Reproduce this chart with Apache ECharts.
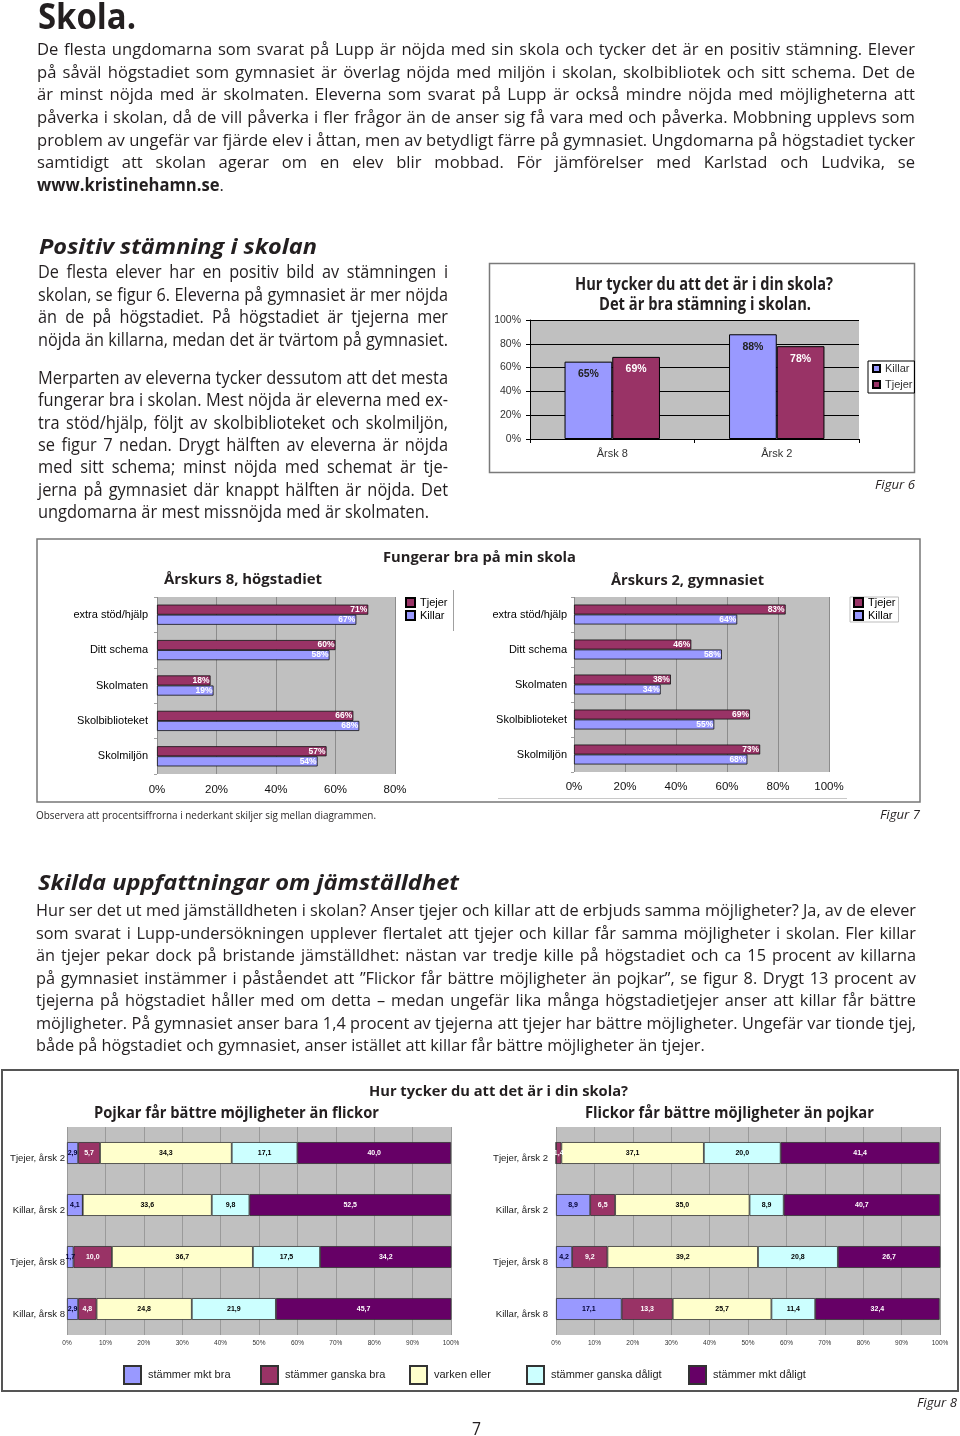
<!DOCTYPE html>
<html lang="sv">
<head>
<meta charset="utf-8">
<title>Skola</title>
<script src="https://cdn.jsdelivr.net/npm/echarts@6/dist/echarts.min.js"></script>
<style>
html,body{margin:0;padding:0;background:#fff;}
#page{position:relative;width:960px;height:1436px;overflow:hidden;background:#fff;}
#chart{position:absolute;left:0;top:0;width:960px;height:1436px;}
.t{position:absolute;white-space:nowrap;transform-origin:0 0;color:#231f20;font-family:'Open Sans','Noto Sans',sans-serif;}
</style>
</head>
<body>
<div id="page"><div id="chart"></div></div>
<script>
// ---------------- DATA ----------------
// Figur 6: Det är bra stämning i skolan (%)
const fig6Categories = ['Årsk 8', 'Årsk 2'];
const fig6Killar = [65, 88];
const fig6Tjejer = [69, 78];
const fig6AxisMax = 100, fig6AxisStep = 20;

// Figur 7: Fungerar bra på min skola (%)
const fig7Categories = ['extra stöd/hjälp', 'Ditt schema', 'Skolmaten', 'Skolbiblioteket', 'Skolmiljön'];
const fig7Ak8Tjejer = [71, 60, 18, 66, 57];
const fig7Ak8Killar = [67, 58, 19, 68, 54];
const fig7Ak2Tjejer = [83, 46, 38, 69, 73];
const fig7Ak2Killar = [64, 58, 34, 55, 68];
const fig7Ak8AxisMax = 80, fig7Ak2AxisMax = 100, fig7AxisStep = 20;

// Figur 8: Hur tycker du att det är i din skola? (%)
const fig8Categories = ['Tjejer, årsk 2', 'Killar, årsk 2', 'Tjejer, årsk 8', 'Killar, årsk 8'];
const fig8Answers = ['stämmer mkt bra', 'stämmer ganska bra', 'varken eller', 'stämmer ganska dåligt', 'stämmer mkt dåligt'];
// "Pojkar får bättre möjligheter än flickor"
const fig8PojkarMktBra       = [2.9, 4.1, 1.7, 2.9];
const fig8PojkarGanskaBra    = [5.7, 0.0, 10.0, 4.8];
const fig8PojkarVarkenEller  = [34.3, 33.6, 36.7, 24.8];
const fig8PojkarGanskaDaligt = [17.1, 9.8, 17.5, 21.9];
const fig8PojkarMktDaligt    = [40.0, 52.5, 34.2, 45.7];
// "Flickor får bättre möjligheter än pojkar"
const fig8FlickorMktBra       = [0.0, 8.9, 4.2, 17.1];
const fig8FlickorGanskaBra    = [1.4, 6.5, 9.2, 13.3];
const fig8FlickorVarkenEller  = [37.1, 35.0, 39.2, 25.7];
const fig8FlickorGanskaDaligt = [20.0, 8.9, 20.8, 11.4];
const fig8FlickorMktDaligt    = [41.4, 40.7, 26.7, 32.4];
const fig8AxisMax = 100, fig8AxisStep = 10;

// ---------------- TEXT ----------------
const p1Lines = [
  ['De flesta ungdomarna som svarat på Lupp är nöjda med sin skola och tycker det är en positiv stämning. Elever', 1],
  ['på såväl högstadiet som gymnasiet är överlag nöjda med miljön i skolan, skolbibliotek och sitt schema. Det de', 1],
  ['är minst nöjda med är skolmaten. Eleverna som svarat på Lupp är också mindre nöjda med möjligheterna att', 1],
  ['påverka i skolan, då de vill påverka i fler frågor än de anser sig få vara med och påverka. Mobbning upplevs som', 1],
  ['problem av ungefär var fjärde elev i åttan, men av betydligt färre på gymnasiet. Ungdomarna på högstadiet tycker', 1],
  ['samtidigt att skolan agerar om en elev blir mobbad. För jämförelser med Karlstad och Ludvika, se', 1],
  ['<b>www.kristinehamn.se</b>.', 0]
];
const p2aLines = [
  ['De flesta elever har en positiv bild av stämningen i', 1],
  ['skolan, se figur 6. Eleverna på gymnasiet är mer nöjda', 1],
  ['än de på högstadiet. På högstadiet är tjejerna mer', 1],
  ['nöjda än killarna, medan det är tvärtom på gymnasiet.', 1]
];
const p2bLines = [
  ['Merparten av eleverna tycker dessutom att det mesta', 1],
  ['fungerar bra i skolan. Mest nöjda är eleverna med ex-', 1],
  ['tra stöd/hjälp, följt av skolbiblioteket och skolmiljön,', 1],
  ['se figur 7 nedan. Drygt hälften av eleverna är nöjda', 1],
  ['med sitt schema; minst nöjda med schemat är tje-', 1],
  ['jerna på gymnasiet där knappt hälften är nöjda. Det', 1],
  ['ungdomarna är mest missnöjda med är skolmaten.', 0]
];
const p3Lines = [
  ['Hur ser det ut med jämställdheten i skolan? Anser tjejer och killar att de erbjuds samma möjligheter? Ja, av de elever', 1],
  ['som svarat i Lupp-undersökningen upplever flertalet att tjejer och killar får samma möjligheter i skolan. Fler killar', 1],
  ['än tjejer pekar dock på bristande jämställdhet: nästan var tredje kille på högstadiet och ca 15 procent av killarna', 1],
  ['på gymnasiet instämmer i påståendet att ”Flickor får bättre möjligheter än pojkar”, se figur 8. Drygt 13 procent av', 1],
  ['tjejerna på högstadiet håller med om detta – medan ungefär lika många högstadietjejer anser att killar får bättre', 1],
  ['möjligheter. På gymnasiet anser bara 1,4 procent av tjejerna att tjejer har bättre möjligheter. Ungefär var tionde tjej,', 1],
  ['både på högstadiet och gymnasiet, anser istället att killar får bättre möjligheter än tjejer.', 0]
];

// ---------------- HELPERS ----------------
const page = document.getElementById('page');
const mctx = document.createElement('canvas').getContext('2d');
function textW(text, font) { mctx.font = font; return mctx.measureText(text).width; }
const AR = "'Liberation Sans', Arial, Helvetica, sans-serif";
const OS = "'Open Sans', 'Noto Sans', sans-serif";
// genuine narrow font only if it really is narrower than Liberation Sans
const sample = 'Tjejer, årsk 2';
const narrowW = textW(sample, '40px "Liberation Sans Narrow", "Liberation Sans"');
const regW = textW(sample, '40px "Liberation Sans"');
const CAT_FONT = (narrowW < 0.9 * regW) ? "'Liberation Sans Narrow', " + AR : AR;
const CAT_SIZE = Math.min(12, 40 * 55 / textW(sample, '40px ' + CAT_FONT));

function mk(html, x, baseline, size, extra) {
  const d = document.createElement('div');
  d.className = 't';
  d.style.left = x + 'px';
  d.style.top = (baseline - 0.888 * size) + 'px';
  d.style.fontSize = size + 'px';
  d.style.lineHeight = size + 'px';
  if (extra) Object.assign(d.style, extra);
  d.innerHTML = html;
  page.appendChild(d);
  return d;
}
function fitLine(html, x, baseline, size, targetW, extra) {
  const d = mk(html, x, baseline, size, extra);
  const w = d.getBoundingClientRect().width;
  d.style.transform = 'scaleX(' + (targetW / w) + ')';
  return d;
}
function para(lines, o) {
  const els = lines.map((l, i) => mk(l[0], o.x, o.y + i * o.lh, o.size));
  const ws = els.map(e => e.getBoundingClientRect().width);
  let s = Infinity;
  lines.forEach((l, i) => { if (l[1]) s = Math.min(s, o.w / ws[i]); });
  if (!isFinite(s)) s = 1;
  s = Math.max(0.7, Math.min(1.2, s));
  els.forEach((e, i) => {
    e.style.transform = 'scaleX(' + s + ')';
    if (lines[i][1]) {
      const n = (e.textContent.match(/ /g) || []).length;
      if (n) e.style.wordSpacing = ((o.w / s - ws[i]) / n) + 'px';
    }
  });
}
function gText(text, left, baseline, targetW, size, weight, italic) {
  const fs = italic ? 'italic' : 'normal';
  const w = textW(text, fs + ' ' + weight + ' ' + size + 'px "Open Sans"');
  return {
    type: 'text', x: left, y: baseline - 0.29 * size, scaleX: targetW / w, silent: true,
    style: { text: text, fill: '#231f20', fontFamily: OS, fontSize: size, fontWeight: weight,
             fontStyle: fs, align: 'left', verticalAlign: 'middle' }
  };
}

// ---------------- PAGE TEXT ----------------
fitLine('Skola.', 38, 29, 35, 98, { fontWeight: '700' });
para(p1Lines, { x: 37, y: 55.5, lh: 22.6, w: 878, size: 17.2 });
fitLine('Positiv stämning i skolan', 39, 254, 21.5, 278, { fontWeight: '700', fontStyle: 'italic' });
para(p2aLines, { x: 37.5, y: 278, lh: 22.5, w: 410, size: 18 });
para(p2bLines, { x: 37.5, y: 384, lh: 22.3, w: 410, size: 18 });
fitLine('Figur 6', 875, 490, 13, 40, { fontStyle: 'italic' });
fitLine('Observera att procentsiffrorna i nederkant skiljer sig mellan diagrammen.', 36, 819, 10, 340);
fitLine('Figur 7', 880, 820, 13, 40, { fontStyle: 'italic' });
fitLine('Skilda uppfattningar om jämställdhet', 38, 890, 21.5, 421, { fontWeight: '700', fontStyle: 'italic' });
para(p3Lines, { x: 36, y: 916.5, lh: 22.5, w: 880, size: 17.2 });
fitLine('Figur 8', 917, 1408, 13, 40, { fontStyle: 'italic' });
fitLine('7', 472, 1435, 18, 9);

// ---------------- CHART ----------------
const COL = { killar: '#9999ff', tjejer: '#993366' };
const fig8Colors = ['#9999ff', '#993366', '#ffffcc', '#ccffff', '#660066'];
const fig8LabelColors = ['#000033', '#ffffff', '#000000', '#000000', '#ffffff'];
const fig8Pojkar = [fig8PojkarMktBra, fig8PojkarGanskaBra, fig8PojkarVarkenEller, fig8PojkarGanskaDaligt, fig8PojkarMktDaligt];
const fig8Flickor = [fig8FlickorMktBra, fig8FlickorGanskaBra, fig8FlickorVarkenEller, fig8FlickorGanskaDaligt, fig8FlickorMktDaligt];

const plotBg = { show: true, backgroundColor: '#c0c0c0', borderWidth: 0, containLabel: false, outerBoundsMode: 'none' };
const grids = [
  Object.assign({ left: 530, top: 320, width: 329, height: 119 }, plotBg),
  Object.assign({ left: 157, top: 597, width: 238, height: 177 }, plotBg),
  Object.assign({ left: 574, top: 597, width: 255, height: 175 }, plotBg),
  Object.assign({ left: 67, top: 1127, width: 384, height: 208 }, plotBg),
  Object.assign({ left: 556, top: 1127, width: 384, height: 208 }, plotBg)
];

function fig7X(gi, max) {
  return { type: 'value', gridIndex: gi, min: 0, max: max, interval: fig7AxisStep,
    axisLine: { show: false }, axisTick: { show: false },
    axisLabel: { formatter: '{value}%', color: '#111', fontFamily: AR, fontSize: 11.5, margin: gi === 1 ? 10 : 8.5 },
    splitLine: { show: true, lineStyle: { color: '#8c8c8c', width: 1 } } };
}
function fig7Y(gi, margin) {
  return { type: 'category', gridIndex: gi, inverse: true, data: fig7Categories,
    axisLine: { show: false }, axisTick: { show: true, length: 3, lineStyle: { color: '#a0a0a0' } },
    axisLabel: { color: '#000', fontFamily: AR, fontSize: 11, margin: margin, interval: 0 },
    splitLine: { show: false } };
}
function fig8X(gi) {
  return { type: 'value', gridIndex: gi, min: 0, max: fig8AxisMax, interval: fig8AxisStep,
    axisLine: { show: false }, axisTick: { show: false },
    axisLabel: { formatter: '{value}%', color: '#333', fontFamily: AR, fontSize: 6.5, margin: 5 },
    splitLine: { show: true, lineStyle: { color: '#9a9a9a', width: 1 } } };
}
function fig8Y(gi, margin) {
  return { type: 'category', gridIndex: gi, inverse: true, data: fig8Categories,
    axisLine: { show: false }, axisTick: { show: false },
    axisLabel: { color: '#222', fontFamily: CAT_FONT, fontSize: CAT_SIZE, margin: margin,
                 interval: 0, verticalAlign: 'top' },
    splitLine: { show: false } };
}
function fig7Series(name, data, gi, color) {
  return { type: 'bar', name: name, xAxisIndex: gi, yAxisIndex: gi, data: data,
    barGap: '0%', barCategoryGap: '43%',
    itemStyle: { color: color, borderColor: '#111', borderWidth: 0.8 },
    label: { show: true, position: 'insideRight', distance: 1, formatter: '{c}%', color: '#fff',
             fontFamily: AR, fontWeight: 'bold', fontSize: 8.5 } };
}
function fig8Series(gi, stack, values) {
  return fig8Answers.map((name, k) => ({
    type: 'bar', name: name, stack: stack, xAxisIndex: gi, yAxisIndex: gi, data: values[k],
    barCategoryGap: '58%',
    itemStyle: { color: fig8Colors[k], borderColor: '#333', borderWidth: 0.8 },
    label: { show: true, position: 'inside', color: fig8LabelColors[k], fontFamily: AR,
             fontWeight: 'bold', fontSize: 7,
             formatter: p => (p.value > 0 ? p.value.toFixed(1).replace('.', ',') : '') }
  }));
}

const legendText = (size, color) => ({ fontFamily: AR, fontSize: size, color: color });
const fig8LegendLeft = [123, 260, 409, 526, 688];

const option = {
  animation: false,
  backgroundColor: 'transparent',
  grid: grids,
  xAxis: [
    { type: 'category', gridIndex: 0, data: fig6Categories,
      axisLine: { show: true, lineStyle: { color: '#000', width: 1 } },
      axisTick: { show: true, length: 4, lineStyle: { color: '#000' } },
      axisLabel: { color: '#333', fontFamily: AR, fontSize: 11, margin: 9 } },
    fig7X(1, fig7Ak8AxisMax),
    fig7X(2, fig7Ak2AxisMax),
    fig8X(3),
    fig8X(4)
  ],
  yAxis: [
    { type: 'value', gridIndex: 0, min: 0, max: fig6AxisMax, interval: fig6AxisStep,
      axisLine: { show: true, lineStyle: { color: '#000', width: 1 } },
      axisTick: { show: true, length: 4, lineStyle: { color: '#000' } },
      axisLabel: { formatter: '{value}%', color: '#333', fontFamily: AR, fontSize: 10.5, margin: 9 },
      splitLine: { show: true, lineStyle: { color: '#000', width: 1 } } },
    fig7Y(1, 9),
    fig7Y(2, 7),
    fig8Y(3, 2),
    fig8Y(4, 8)
  ],
  legend: [
    { data: ['Killar', 'Tjejer'], orient: 'vertical', left: 868, top: 361, padding: [2, 2, 3, 4],
      itemGap: 5, itemWidth: 7, itemHeight: 7, icon: 'rect', selectedMode: false,
      borderColor: '#000', borderWidth: 1, textStyle: legendText(11, '#333') },
    { data: ['Tjejer', 'Killar'], orient: 'vertical', left: 401, top: 594, padding: [3, 4, 3, 4],
      itemGap: 2, itemWidth: 9, itemHeight: 9, icon: 'rect', selectedMode: false,
      textStyle: legendText(11, '#000') },
    { data: ['Tjejer', 'Killar'], orient: 'vertical', left: 850, top: 597, padding: [0, 3, 1, 3],
      itemGap: 2, itemWidth: 9, itemHeight: 9, icon: 'rect', selectedMode: false,
      borderColor: '#bdbdbd', borderWidth: 1, textStyle: legendText(11, '#000') }
  ].concat(fig8Answers.map((n, k) => ({
      data: [n], left: fig8LegendLeft[k], top: 1365, padding: 0, itemWidth: 17, itemHeight: 18,
      icon: 'rect', selectedMode: false,
      textStyle: Object.assign(legendText(11, '#222'), { padding: [0, 0, 0, 2] }) }))),
  series: [
    { type: 'bar', name: 'Killar', xAxisIndex: 0, yAxisIndex: 0, data: fig6Killar,
      barGap: '0%', barCategoryGap: '42%',
      itemStyle: { color: COL.killar, borderColor: '#000', borderWidth: 1 },
      label: { show: true, position: 'insideTop', distance: 7, formatter: '{c}%', color: '#222',
               fontFamily: AR, fontWeight: 'bold', fontSize: 10.5 } },
    { type: 'bar', name: 'Tjejer', xAxisIndex: 0, yAxisIndex: 0, data: fig6Tjejer,
      barGap: '0%', barCategoryGap: '42%',
      itemStyle: { color: COL.tjejer, borderColor: '#000', borderWidth: 1 },
      label: { show: true, position: 'insideTop', distance: 7, formatter: '{c}%', color: '#fff',
               fontFamily: AR, fontWeight: 'bold', fontSize: 10.5 } },
    fig7Series('Tjejer', fig7Ak8Tjejer, 1, COL.tjejer),
    fig7Series('Killar', fig7Ak8Killar, 1, COL.killar),
    fig7Series('Tjejer', fig7Ak2Tjejer, 2, COL.tjejer),
    fig7Series('Killar', fig7Ak2Killar, 2, COL.killar)
  ].concat(fig8Series(3, 'pojkar', fig8Pojkar), fig8Series(4, 'flickor', fig8Flickor)),
  graphic: [
    { type: 'rect', silent: true, shape: { x: 489.5, y: 263.5, width: 425, height: 209 },
      style: { fill: 'none', stroke: '#7a7a7a', lineWidth: 1.5 } },
    { type: 'rect', silent: true, shape: { x: 37, y: 539, width: 883, height: 263 },
      style: { fill: 'none', stroke: '#777', lineWidth: 1.5 } },
    { type: 'line', silent: true, shape: { x1: 498, y1: 798.5, x2: 847, y2: 798.5 },
      style: { stroke: '#c8c8c8', lineWidth: 1 } },
    { type: 'line', silent: true, shape: { x1: 453.5, y1: 590, x2: 453.5, y2: 631 },
      style: { stroke: '#a0a0a0', lineWidth: 1 } },
    { type: 'rect', silent: true, shape: { x: 2, y: 1070, width: 956, height: 321 },
      style: { fill: 'none', stroke: '#555', lineWidth: 2 } },
    gText('Hur tycker du att det är i din skola?', 575, 290, 258, 17, 'bold'),
    gText('Det är bra stämning i skolan.', 599, 310, 212, 17, 'bold'),
    gText('Fungerar bra på min skola', 383, 562, 193, 14.5, 'bold'),
    gText('Årskurs 8, högstadiet', 164, 584, 158, 15, 'bold'),
    gText('Årskurs 2, gymnasiet', 611, 585, 153, 15, 'bold'),
    gText('Hur tycker du att det är i din skola?', 369, 1096.5, 259, 15, 'bold'),
    gText('Pojkar får bättre möjligheter än flickor', 94, 1118, 285, 16, 'bold'),
    gText('Flickor får bättre möjligheter än pojkar', 585, 1118, 289, 16, 'bold')
  ]
};

const chart = echarts.init(document.getElementById('chart'), null, { renderer: 'canvas' });
chart.setOption(option);
</script>
</body>
</html>
